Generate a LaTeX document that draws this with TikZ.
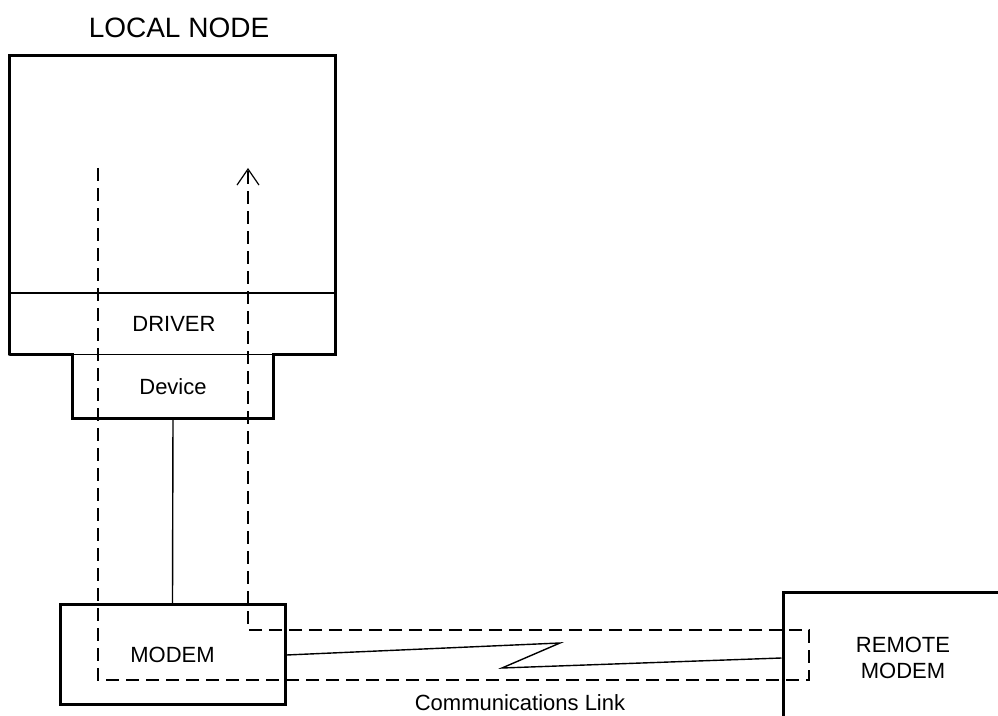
\documentclass[tikz,border=0pt]{standalone}
\usepackage{fontspec}
\setmainfont{Liberation Sans}
\usetikzlibrary{arrows.meta, positioning, calc}

\begin{document}
\begin{tikzpicture}[x=0.5pt, y=-0.5pt,
  box/.style={draw, line width=1.5pt, minimum width=#1},
  lbl/.style={font=\fontsize{11}{13}\selectfont, align=center},
  thinline/.style={line width=0.7pt},
  flow/.style={line width=0.9pt, dash pattern=on 6.5pt off 3.5pt}]
  \useasboundingbox (0,0) rectangle (998,716);
  \clip (0,0) rectangle (998,716);

  % local side
  \node (host) [minimum width=162.5pt, minimum height=149.5pt, inner sep=0pt] at (172.5,205.5) {};
  \node (title) [font=\fontsize{14}{16}\selectfont] at (179,28) {LOCAL NODE};
  \node (driver) [lbl] at (174,324) {DRIVER};
  \node (device) [lbl, minimum width=100pt, minimum height=31.5pt, inner sep=0pt] at (173,386.5) {Device};
  \draw[line width=1.5pt] (device.north west) -| (host.south west) |- (host.north east) |- (device.north east)
    -- (device.south east) -- (device.south west) -- cycle;
  \draw[thinline] (host.west |- 0,293) -- (host.east |- 0,293);
  \draw[thinline] (device.north west) -- (device.north east);

  % modems
  \node (modem) [box=112.5pt, lbl, minimum height=50pt] at (172.5,655) {MODEM};
  \node (remote) [box=120pt, lbl, minimum height=65pt] at (903,658) {REMOTE\\MODEM};
  \node (link) [lbl] at (520,703) {Communications Link};

  \draw[thinline] (device.south) -- (modem.north);

  % the link itself
  \coordinate (zigA) at (560,643);
  \coordinate (zigB) at (502,668);
  \draw[thinline] (modem.east) -- (zigA) -- (zigB) -- (remote.west);

  % loop back path
  \coordinate (start) at (98,168);
  \coordinate (turn) at (809,630);
  \coordinate (tip) at (248,168);
  \draw[flow, -{Straight Barb[length=8pt, width=11pt, line width=0.6pt]}]
    (start) |- (turn |- 0,680) -- (turn) -| (tip);
\end{tikzpicture}
\end{document}
